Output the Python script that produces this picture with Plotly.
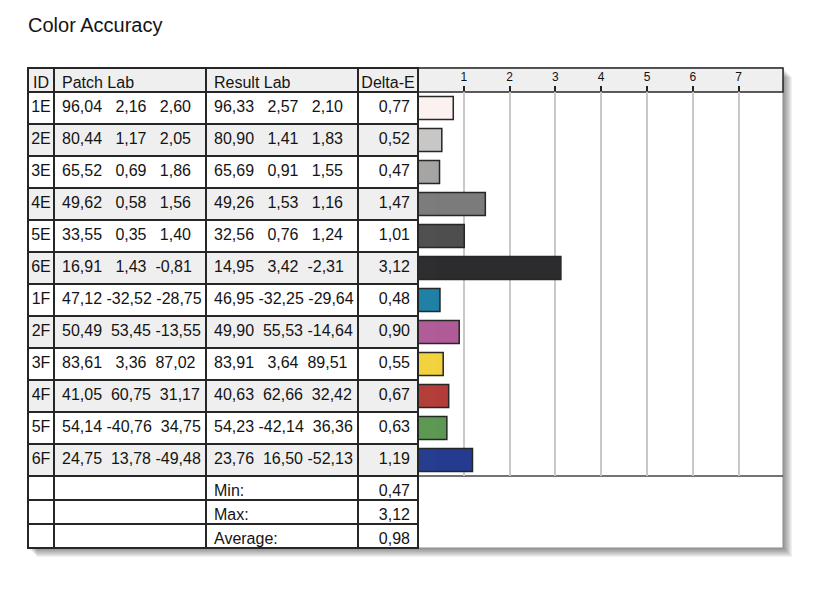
import plotly.graph_objects as go

W, H = 831, 595
FONT = "Liberation Sans, Arial, sans-serif"
TEXT = "#141414"
LINE = "#262626"

patch_ids = ["1E", "2E", "3E", "4E", "5E", "6E", "1F", "2F", "3F", "4F", "5F", "6F"]
patch_L = [96.04, 80.44, 65.52, 49.62, 33.55, 16.91, 47.12, 50.49, 83.61, 41.05, 54.14, 24.75]
patch_a = [2.16, 1.17, 0.69, 0.58, 0.35, 1.43, -32.52, 53.45, 3.36, 60.75, -40.76, 13.78]
patch_b = [2.60, 2.05, 1.86, 1.56, 1.40, -0.81, -28.75, -13.55, 87.02, 31.17, 34.75, -49.48]
result_L = [96.33, 80.90, 65.69, 49.26, 32.56, 14.95, 46.95, 49.90, 83.91, 40.63, 54.23, 23.76]
result_a = [2.57, 1.41, 0.91, 1.53, 0.76, 3.42, -32.25, 55.53, 3.64, 62.66, -42.14, 16.50]
result_b = [2.10, 1.83, 1.55, 1.16, 1.24, -2.31, -29.64, -14.64, 89.51, 32.42, 36.36, -52.13]
delta_e = [0.77, 0.52, 0.47, 1.47, 1.01, 3.12, 0.48, 0.90, 0.55, 0.67, 0.63, 1.19]
bar_colors = ["#fbf1ef", "#c9c7c6", "#a6a4a3", "#7c7b7b", "#4f4e4e", "#2c2b2d",
              "#1e80a5", "#b05b97", "#f2d23c", "#b33c38", "#5c9851", "#243b8f"]

summary_labels = ["Min:", "Max:", "Average:"]
summary_values = [0.47, 3.12, 0.98]

header_labels = ["ID", "Patch Lab", "Result Lab", "Delta-E"]
x_ticks = [1, 2, 3, 4, 5, 6, 7]

# pixel layout of the frame (page coords; the plot div sits 8px in from the page corner)
OFF = 8
LEFT, SPLIT, RIGHT = 28, 418, 783
TOP, HEAD_BOT, ROWS_BOT, BOTTOM = 68, 92, 476, 548
UNIT = 45.8  # px per delta-e unit


def px(x):
    return (x - OFF) / W


def py(y):
    return 1 - (y - OFF) / H


def num(v):
    return f"{v:.2f}".replace(".", ",")


def lab(L, a, b):
    s = f"{L:5.2f} {a:6.2f} {b:6.2f}".replace(".", ",")
    return s.replace(" ", "\u00a0")


patch_txt = [lab(*t) for t in zip(patch_L, patch_a, patch_b)]
result_txt = [lab(*t) for t in zip(result_L, result_a, result_b)]
delta_txt = [num(v) for v in delta_e]
summary_txt = [num(v) for v in summary_values]
row_fill = ["white" if i % 2 == 0 else "#efefef" for i in range(len(patch_ids))]

cell_font = dict(family=FONT, size=16, color=TEXT)
cell_line = dict(color=LINE, width=1.5)
col_w = [26, 152, 152, 60]
col_align = ["center", "left", "left", "right"]

main_table = go.Table(
    domain=dict(x=[px(LEFT), px(SPLIT)], y=[py(ROWS_BOT + 2), py(TOP)]),
    columnwidth=col_w,
    header=dict(values=header_labels, align=["center", "left", "left", "center"],
                fill_color="#efefef", line=cell_line, font=cell_font, height=24),
    cells=dict(values=[patch_ids, patch_txt, result_txt, delta_txt],
               align=col_align, fill_color=[row_fill] * 4,
               line=cell_line, font=cell_font, height=32),
)

# the first summary row doubles as this table's header row
summary_table = go.Table(
    domain=dict(x=[px(LEFT), px(SPLIT)], y=[py(BOTTOM + 2), py(ROWS_BOT)]),
    columnwidth=col_w,
    header=dict(values=["", "", summary_labels[0], summary_txt[0]], align=col_align,
                fill_color="white", line=cell_line, font=cell_font, height=24),
    cells=dict(values=[[""] * 2, [""] * 2, summary_labels[1:], summary_txt[1:]],
               align=col_align, fill_color="white",
               line=cell_line, font=cell_font, height=24),
)

bars = go.Bar(
    x=delta_e, y=patch_ids, orientation="h", width=0.72,
    marker=dict(color=bar_colors, line=dict(color=LINE, width=1.5)),
    hovertemplate="%{y}: %{x:.2f}<extra></extra>",
)

fig = go.Figure(data=[main_table, summary_table, bars])

shapes = []
for k in range(2, 10):
    shapes.append(dict(type="rect", xref="paper", yref="paper", layer="below",
                       x0=px(LEFT + k), x1=px(RIGHT + k), y0=py(BOTTOM + k), y1=py(TOP + k),
                       fillcolor="rgba(0,0,0,0.055)", line=dict(width=0)))
shapes += [
    dict(type="rect", xref="paper", yref="paper", layer="below",
         x0=px(LEFT), x1=px(RIGHT), y0=py(BOTTOM), y1=py(TOP),
         fillcolor="white", line=dict(color="#8a8a8a", width=1)),
    dict(type="rect", xref="paper", yref="paper", layer="below",
         x0=px(SPLIT), x1=px(RIGHT), y0=py(HEAD_BOT), y1=py(TOP),
         fillcolor="#efefef", line=dict(color=LINE, width=1.5)),
    dict(type="line", xref="paper", yref="paper", layer="below",
         x0=px(SPLIT), x1=px(RIGHT), y0=py(ROWS_BOT), y1=py(ROWS_BOT),
         line=dict(color="#444444", width=1.5)),
]

fig.update_layout(
    width=W, height=H,
    margin=dict(l=0, r=0, t=0, b=0),
    paper_bgcolor="white",
    plot_bgcolor="rgba(0,0,0,0)",
    showlegend=False,
    font=dict(family=FONT, color=TEXT),
    title=dict(text="Color Accuracy", x=px(LEFT), xanchor="left", xref="paper",
               y=py(25), yanchor="middle", yref="paper",
               font=dict(family=FONT, size=20, color=TEXT)),
    xaxis=dict(domain=[px(SPLIT), px(RIGHT)], range=[0, (RIGHT - SPLIT) / UNIT],
               side="top", tickvals=x_ticks, ticks="outside", ticklen=5,
               tickwidth=1.5, tickcolor="#222222", tickfont=dict(size=12, color="#111111"),
               showgrid=True, gridcolor="#c8c8c8", gridwidth=1.5,
               zeroline=False, showline=False, fixedrange=True),
    yaxis=dict(domain=[py(ROWS_BOT), py(HEAD_BOT)], categoryorder="array",
               categoryarray=patch_ids, autorange="reversed",
               showticklabels=False, showgrid=False, zeroline=False, fixedrange=True),
    shapes=shapes,
)

fig.write_html("out.html")
